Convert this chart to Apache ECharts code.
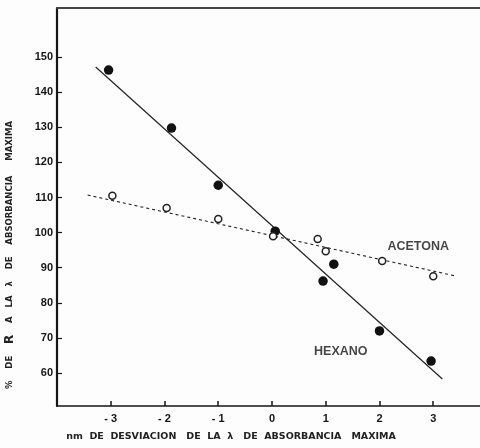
<!DOCTYPE html>
<html lang="es">
<head>
    <meta charset="UTF-8">
    <title>% de R frente a desviacion</title>
    <style>
        html, body { margin: 0; padding: 0; background: #fff; }
        #main { width: 480px; height: 448px; }
    </style>
</head>
<body>
<script src="https://cdn.jsdelivr.net/npm/echarts@6/dist/echarts.min.js"></script>
<div id="main"></div>
<script>
    // puntos: x = nm de desviacion, y = % de R
    var hexanoX = [-3.04, -1.87, -1.0, 0.06, 0.95, 1.15, 2.0, 2.96];
    var hexanoY = [146.3, 129.8, 113.5, 100.4, 86.2, 91.0, 72.0, 63.4];
    var acetonaX = [-2.97, -1.96, -1.0, 0.02, 0.85, 1.0, 2.05, 3.0];
    var acetonaY = [110.5, 107.0, 103.9, 99.0, 98.2, 94.7, 91.9, 87.6];

    // extremos de las rectas trazadas
    var hexanoLineX = [-3.28, 3.17];
    var hexanoLineY = [147.2, 58.3];
    var acetonaLineX = [-3.43, 3.43];
    var acetonaLineY = [110.7, 87.6];

    var xTicks = [-3, -2, -1, 0, 1, 2, 3];
    var yTicks = [60, 70, 80, 90, 100, 110, 120, 130, 140, 150];

    // posicion de las etiquetas de serie (coordenadas de datos)
    var labelNames = ['ACETONA', 'HEXANO'];
    var labelX = [2.72, 1.28];
    var labelY = [95.9, 66.0];

    var zip = function (xs, ys) {
        var arr = [];
        for (var i = 0; i < xs.length; i++) arr.push([xs[i], ys[i]]);
        return arr;
    };

    var ink = '#161616';
    var chart = echarts.init(document.getElementById('main'));

    var option = {
        backgroundColor: '#fdfdfd',
        animation: false,
        grid: { left: 57, top: 8, right: 0, bottom: 42 },
        xAxis: [
            {
                type: 'value',
                min: -4,
                max: 3.87,
                interval: 1,
                splitLine: { show: false },
                axisLine: { onZero: false, lineStyle: { color: ink, width: 1.6 } },
                axisTick: { inside: true, length: 5, customValues: xTicks, lineStyle: { color: ink, width: 1.5 } },
                axisLabel: {
                    customValues: xTicks,
                    margin: 7,
                    color: ink,
                    fontFamily: 'Liberation Sans',
                    fontWeight: 'bold',
                    fontSize: 11,
                    formatter: function (v) { return v < 0 ? '- ' + (-v) : '' + v; }
                }
            },
            {
                type: 'value',
                position: 'top',
                min: -4,
                max: 3.87,
                splitLine: { show: false },
                axisLine: { onZero: false, lineStyle: { color: '#444', width: 2 } },
                axisTick: { show: false },
                axisLabel: { show: false }
            }
        ],
        yAxis: {
            type: 'value',
            min: 50.6,
            max: 164,
            splitLine: { show: false },
            axisLine: { onZero: false, lineStyle: { color: ink, width: 2.2 } },
            axisTick: { inside: true, length: 5, customValues: yTicks, lineStyle: { color: ink, width: 1.2 } },
            axisLabel: {
                customValues: yTicks,
                margin: 4,
                color: ink,
                fontFamily: 'Liberation Sans',
                fontWeight: 'bold',
                fontSize: 11
            }
        },
        series: [
            {
                name: 'recta hexano',
                type: 'line',
                data: zip(hexanoLineX, hexanoLineY),
                symbol: 'none',
                lineStyle: { color: '#222', width: 1.2 },
                z: 2
            },
            {
                name: 'recta acetona',
                type: 'line',
                data: zip(acetonaLineX, acetonaLineY),
                symbol: 'none',
                lineStyle: { color: '#222', width: 1.1, type: [3, 3] },
                z: 2
            },
            {
                name: 'HEXANO',
                type: 'scatter',
                data: zip(hexanoX, hexanoY),
                symbol: 'circle',
                symbolSize: 9.5,
                itemStyle: { color: '#111', opacity: 1 },
                z: 3
            },
            {
                name: 'ACETONA',
                type: 'scatter',
                data: zip(acetonaX, acetonaY),
                symbol: 'circle',
                symbolSize: 7,
                itemStyle: { color: '#fdfdfd', borderColor: '#222', borderWidth: 1.5, opacity: 1 },
                z: 3
            },
            {
                name: 'etiquetas',
                type: 'scatter',
                symbolSize: 0,
                data: labelNames.map(function (n, i) {
                    return { name: n, value: [labelX[i], labelY[i]] };
                }),
                label: {
                    show: true,
                    position: 'inside',
                    formatter: '{b}',
                    color: ink,
                    fontFamily: 'Liberation Sans',
                    fontWeight: 'bold',
                    fontSize: 12.5
                },
                z: 4
            }
        ],
        graphic: [
            {
                type: 'text',
                x: 231,
                y: 437,
                style: {
                    text: 'nm  DE  DESVIACION   DE  LA  λ   DE  ABSORBANCIA   MAXIMA',
                    fill: '#222',
                    font: 'bold 9.5px "DejaVu Sans"',
                    textAlign: 'center',
                    textVerticalAlign: 'middle'
                }
            },
            {
                type: 'text',
                x: 10,
                y: 255,
                rotation: Math.PI / 2,
                style: {
                    text: '%    DE    {r|R}    A   LA   λ    DE    ABSORBANCIA     MAXIMA',
                    fill: '#222',
                    font: 'bold 8.5px "DejaVu Sans"',
                    textAlign: 'center',
                    textVerticalAlign: 'middle',
                    rich: {
                        r: { font: 'bold 12px "DejaVu Sans"', fill: '#222' }
                    }
                }
            }
        ]
    };

    chart.setOption(option);
</script>
</body>
</html>
